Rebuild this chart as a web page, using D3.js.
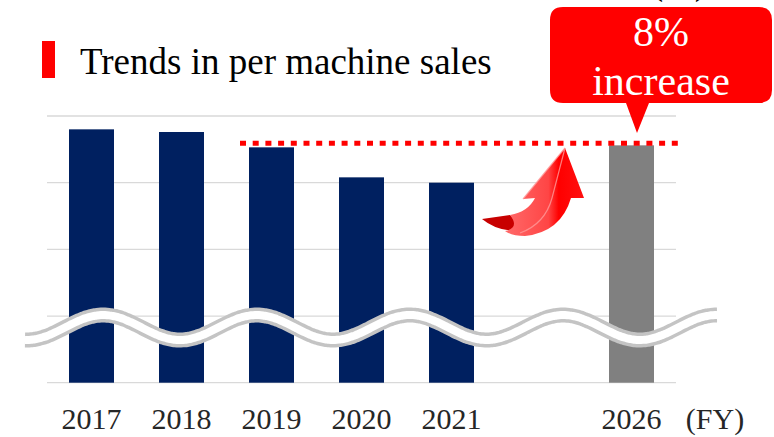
<!DOCTYPE html>
<html>
<head>
<meta charset="utf-8">
<script src="https://cdn.jsdelivr.net/npm/d3@7"></script>
</head>
<body style="margin:0">
<svg id="chart" width="774" height="437" style="display:block;background:#fff"></svg>
<script>
// Per-machine sales, fiscal years (axis is broken below the lowest gridline)
const categories = ["2017", "2018", "2019", "2020", "2021", "", "2026"];
const years      = ["2017", "2018", "2019", "2020", "2021", "2026"];
const sales      = [7.80, 7.76, 7.53, 7.08, 7.00, 7.56];
const isPlan     = [false, false, false, false, false, true];
const gridValues = [4, 5, 6, 7, 8];
const targetValue = 7.56;
const titleText = "Trends in per machine sales";
const calloutLines = ["8%", "increase"];
const axisUnit = "(FY)";

const FONT = "Liberation Serif";
const serif = sel => sel.style("font-family", `"${FONT}", "Times New Roman", serif`);

const svg = d3.select("#chart");

const x = d3.scaleBand()
  .domain(categories)
  .range([46.5, 676.5])
  .paddingInner(0.5)
  .paddingOuter(0.25);

const y = d3.scaleLinear()
  .domain([4, 8])
  .range([382.7, 116]);

// unit label running off the top edge
svg.append("text")
  .attr("x", 679).attr("y", -6)
  .attr("text-anchor", "middle")
  .attr("font-size", 38)
  .attr("fill", "#000")
  .call(serif)
  .text("(%)");

// title with red marker
svg.append("rect")
  .attr("x", 42).attr("y", 41).attr("width", 13).attr("height", 37)
  .attr("fill", "#ff0000");
svg.append("text")
  .attr("x", 80).attr("y", 74)
  .attr("font-size", 37)
  .attr("fill", "#000")
  .call(serif)
  .text(titleText);

// gridlines
svg.append("g")
  .selectAll("line")
  .data(gridValues)
  .join("line")
  .attr("x1", 47).attr("x2", 676)
  .attr("y1", d => y(d)).attr("y2", d => y(d))
  .attr("stroke", "#d9d9d9")
  .attr("stroke-width", 1.3);

// bars
const barData = years.map((yr, i) => ({ year: yr, value: sales[i], plan: isPlan[i] }));
svg.append("g")
  .selectAll("rect")
  .data(barData)
  .join("rect")
  .attr("x", d => x(d.year))
  .attr("width", x.bandwidth())
  .attr("y", d => y(d.value))
  .attr("height", d => y(4) - y(d.value))
  .attr("fill", d => d.plan ? "#808080" : "#002060");

// target level (dotted red)
svg.append("line")
  .attr("x1", 240).attr("x2", 684)
  .attr("y1", y(targetValue) - 2).attr("y2", y(targetValue) - 2)
  .attr("stroke", "#ff0000")
  .attr("stroke-width", 5)
  .attr("stroke-dasharray", "6,6.7");

// curved upward arrow
const defs = svg.append("defs");
const grad = defs.append("linearGradient")
  .attr("id", "arrowGrad")
  .attr("x1", "0%").attr("y1", "0%").attr("x2", "100%").attr("y2", "0%");
grad.append("stop").attr("offset", "0%").attr("stop-color", "#ff6a6a");
grad.append("stop").attr("offset", "55%").attr("stop-color", "#ff4545");
grad.append("stop").attr("offset", "68%").attr("stop-color", "#ff0000");
grad.append("stop").attr("offset", "100%").attr("stop-color", "#ff1010");

const arrow = svg.append("g");
// underside face of the tail
arrow.append("path")
  .attr("d", "M482,219 L510,215 Q522,226 528,230 Q500,234 482,219 Z")
  .attr("fill", "#c80000");
arrow.append("path")
  .attr("d", "M510,215 Q528,212 535,198 L523,199 L565,148 L584,198 L571,198 Q561,232 525,236 Q512,236 505,231 Q520,228 510,215 Z")
  .attr("fill", "url(#arrowGrad)");
// light edge highlight
arrow.append("path")
  .attr("d", "M523,199 L565,148 L552,198 Q545,224 520,233")
  .attr("fill", "none")
  .attr("stroke", "#ff9a9a")
  .attr("stroke-width", 1.2)
  .attr("opacity", 0.8);

// broken-axis wave: grey outline with white core
const waveStart = 25, waveEnd = 717, waveMid = 327.5, waveAmp = 12.5, wavePeriod = 153.3, wavePeak = 103.3;
const wavePts = d3.range(waveStart, waveEnd + 0.5, 2).map(px =>
  [px, waveMid - waveAmp * Math.cos(2 * Math.PI * (px - wavePeak) / wavePeriod)]);
const waveLine = d3.line().curve(d3.curveBasis);
svg.append("path")
  .attr("d", waveLine(wavePts))
  .attr("fill", "none")
  .attr("stroke", "#c4c4c4")
  .attr("stroke-width", 15);
svg.append("path")
  .attr("d", waveLine(wavePts))
  .attr("fill", "none")
  .attr("stroke", "#ffffff")
  .attr("stroke-width", 8);

// callout bubble
const callout = svg.append("g");
callout.append("path")
  .attr("d", "M563,7 H759 Q772,7 772,20 V90 Q772,103 759,103 H649 L637,133 L626,103 H563 Q550,103 550,90 V20 Q550,7 563,7 Z")
  .attr("fill", "#ff0000");
callout.selectAll("text")
  .data(calloutLines)
  .join("text")
  .attr("x", 661)
  .attr("y", (d, i) => 46 + i * 49)
  .attr("text-anchor", "middle")
  .attr("font-size", 42)
  .attr("fill", "#ffffff")
  .call(serif)
  .text(d => d);

// x axis labels
const xAxis = d3.axisBottom(x).tickSize(0).tickPadding(0).tickFormat(d => d);
const gx = svg.append("g")
  .attr("transform", `translate(0,${y(4)})`)
  .call(xAxis)
  .call(serif);
gx.select(".domain").remove();
gx.selectAll("text")
  .attr("y", 46)
  .attr("dy", 0)
  .attr("font-size", 30)
  .attr("fill", "#262626")
  .call(serif);

svg.append("text")
  .attr("x", 715).attr("y", 429)
  .attr("text-anchor", "middle")
  .attr("font-size", 30)
  .attr("fill", "#262626")
  .call(serif)
  .text(axisUnit);
</script>
</body>
</html>
